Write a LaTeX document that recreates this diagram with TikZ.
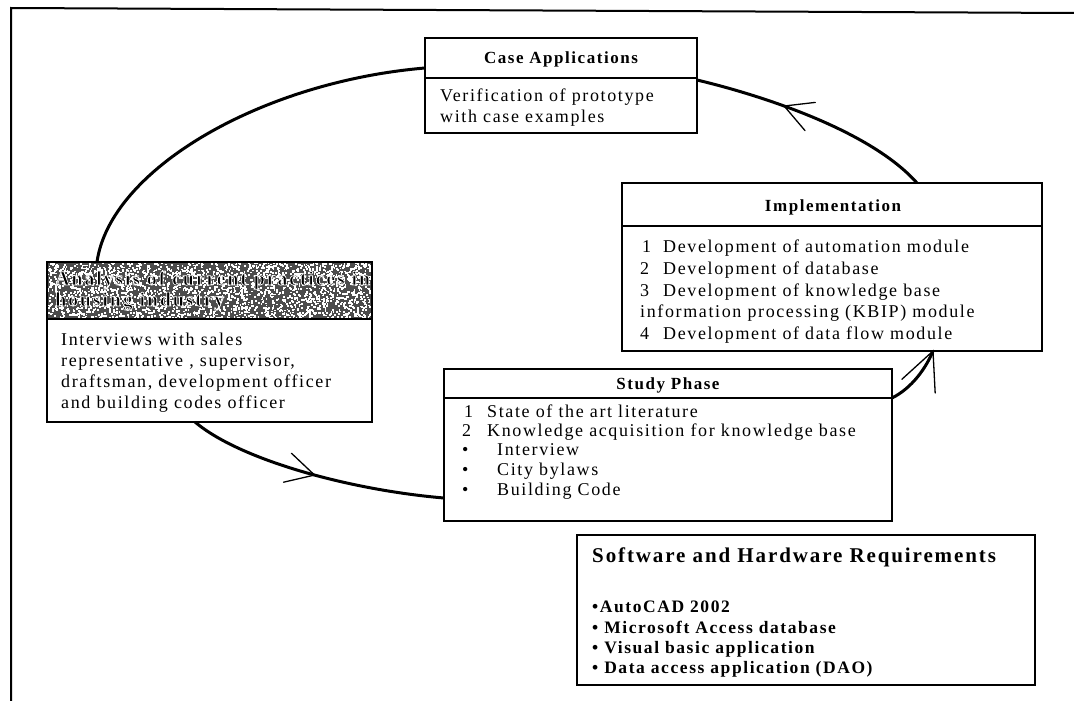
\documentclass[tikz,border=0pt]{standalone}
\usepackage{fontspec}
\setmainfont{Liberation Serif}
\newfontfamily\spacedfont[LetterSpace=9]{Liberation Serif}
\usetikzlibrary{calc,decorations.markings}

% black glyphs with a thin white outline stroke (text render mode 2)
\newcommand\outlinedtext[1]{\special{pdf:literal direct 2 Tr 0.7 w 1 1 1 RG}#1\special{pdf:literal direct 0 Tr 0 0 0 RG}}

\tikzset{
  box/.style={draw=black, line width=1.4pt, fill=white, inner sep=0pt, outer sep=0pt, anchor=north west},
  rule/.style={draw=black, line width=1.4pt},
  frameline/.style={draw=black, line width=2pt},
  loopline/.style={draw=black, line width=3pt},
  barb/.style={draw=black, line width=1.3pt, line cap=round},
  txt/.style={font=\spacedfont\fontsize{18}{21}\selectfont, anchor=base west, inner sep=0pt},
  head/.style={font=\spacedfont\bfseries\fontsize{17}{20}\selectfont, anchor=base, inner sep=0pt},
  bigtitle/.style={font=\spacedfont\bfseries\fontsize{21}{24}\selectfont, anchor=base west, inner sep=0pt},
  softitem/.style={font=\spacedfont\bfseries\fontsize{17.5}{20}\selectfont, anchor=base west, inner sep=0pt},
  shadehead/.style={font=\spacedfont\bfseries\fontsize{20}{22}\selectfont, anchor=base west, inner sep=0pt},
  backbarb/.style={postaction={decorate}, decoration={markings,
      mark=at position #1 with {\draw[barb] (28pt,14pt) -- (0pt,0pt) -- (28pt,-16pt);}}},
  forebarb/.style={postaction={decorate}, decoration={markings,
      mark=at position #1 with {\draw[barb] (-28pt,15pt) -- (0pt,0pt) -- (-28pt,-15pt);}}},
  endbarb/.style={postaction={decorate}, decoration={markings,
      mark=at position 1 with {\draw[barb] (-38pt,18pt) -- (0pt,0pt) -- (-38pt,-18pt);}}}
}

\begin{document}
\begin{tikzpicture}[x=1pt, y=-1pt]
\useasboundingbox (0,0) rectangle (1074,701);
\fill[white] (0,0) rectangle (1074,701);

% page frame: left edge and top edge only
\draw[frameline] (11,701) -- (11,8) -- (1074,13);

% ---------- boxes ----------
\node[box, minimum width=272pt, minimum height=95pt] (case) at (425,38) {};
\draw[rule] ([yshift=-40pt]case.north west) -- ([yshift=-40pt]case.north east);

\node[box, minimum width=420pt, minimum height=168pt] (impl) at (622,183) {};
\draw[rule] ([yshift=-43pt]impl.north west) -- ([yshift=-43pt]impl.north east);

\node[box, minimum width=325pt, minimum height=160pt] (anal) at (47,262) {};

\node[box, minimum width=448pt, minimum height=152pt] (study) at (444,369) {};
\draw[rule] ([yshift=-29pt]study.north west) -- ([yshift=-29pt]study.north east);

\node[box, minimum width=458pt, minimum height=150pt] (soft) at (577,535) {};

% ---------- mottled header of the analysis box ----------
\begin{scope}
  \clip (anal.north west) rectangle ([yshift=-57pt]anal.north east);
  \fill[black!70] (anal.north west) rectangle ([yshift=-57pt]anal.north east);
  \pgfmathsetseed{17}
  \foreach \i in {1,...,2600} {
    \pgfmathsetmacro\rx{47+325*rnd}
    \pgfmathsetmacro\ry{262+57*rnd}
    \fill[white] (\rx,\ry) rectangle ++(1.8,1.8);
  }
\end{scope}
\draw[rule] (anal.north west) rectangle (anal.south east);
\draw[rule] ([yshift=-57pt]anal.north west) -- ([yshift=-57pt]anal.north east);

\node[shadehead] (anal-h1) at (55,285) {\outlinedtext{Analysis of current practices in}};
\node[shadehead] (anal-h2) at (55,306) {\outlinedtext{housing industry}};

% ---------- texts ----------
\node[head] (case-title) at (561,64) {Case Applications};
\node[txt] (case-l1) at (440,102) {Verification of prototype};
\node[txt] (case-l2) at (440,122) {with case examples};

\node[head] (impl-title) at (833,211) {Implementation};
\node[txt] (impl-n1) at (642,252) {1};
\node[txt] (impl-l1) at (663,252) {Development of automation module};
\node[txt] (impl-n2) at (640,274) {2};
\node[txt] (impl-l2) at (663,274) {Development of database};
\node[txt] (impl-n3) at (640,296) {3};
\node[txt] (impl-l3) at (663,296) {Development of knowledge base};
\node[txt] (impl-l3b) at (640,317) {information processing (KBIP) module};
\node[txt] (impl-n4) at (640,339) {4};
\node[txt] (impl-l4) at (663,339) {Development of data flow module};

\node[txt] (anal-l1) at (61,345) {Interviews with sales};
\node[txt] (anal-l2) at (61,366) {representative , supervisor,};
\node[txt] (anal-l3) at (61,387) {draftsman, development officer};
\node[txt] (anal-l4) at (61,408) {and building codes officer};

\node[head] (study-title) at (668,389) {Study Phase};
\node[txt] (study-n1) at (464,417) {1};
\node[txt] (study-l1) at (487,417) {State of the art literature};
\node[txt] (study-n2) at (462,436) {2};
\node[txt] (study-l2) at (487,436) {Knowledge acquisition for knowledge base};
\node[txt] (study-b1) at (462,455) {•};
\node[txt] (study-l3) at (497,455) {Interview};
\node[txt] (study-b2) at (462,475) {•};
\node[txt] (study-l4) at (497,475) {City bylaws};
\node[txt] (study-b3) at (462,495) {•};
\node[txt] (study-l5) at (497,495) {Building Code};

\node[bigtitle] (soft-title) at (592,562) {Software and Hardware Requirements};
\node[softitem] (soft-l1) at (592,612) {•AutoCAD 2002};
\node[softitem] (soft-l2) at (592,633) {• Microsoft Access database};
\node[softitem] (soft-l3) at (592,653) {• Visual basic application};
\node[softitem] (soft-l4) at (592,673) {• Data access application (DAO)};

% ---------- the cycle ----------
\coordinate (c1s) at ([xshift=50pt]anal.north west);
\coordinate (c1e) at ([yshift=-30pt]case.north west);
\draw[loopline] (c1s) .. controls (110,170) and (260,82) .. (c1e);

\coordinate (c2s) at ([yshift=-42pt]case.north east);
\coordinate (c2e) at ([xshift=295pt]impl.north west);
\draw[loopline, backbarb=0.37] (c2s) .. controls (760,95) and (870,130) .. (c2e);

\coordinate (c3s) at ([xshift=148pt]anal.south west);
\coordinate (c3e) at ([yshift=23pt]study.south west);
\draw[loopline, forebarb=0.5] (c3s) .. controls (240,460) and (350,490) .. (c3e);

\coordinate (c4s) at ([yshift=-29pt]study.north east);
\coordinate (c4e) at ([xshift=311pt]impl.south west);
\draw[loopline, endbarb] (c4s) .. controls (912,388) and (926,368) .. (c4e);
\end{tikzpicture}
\end{document}
